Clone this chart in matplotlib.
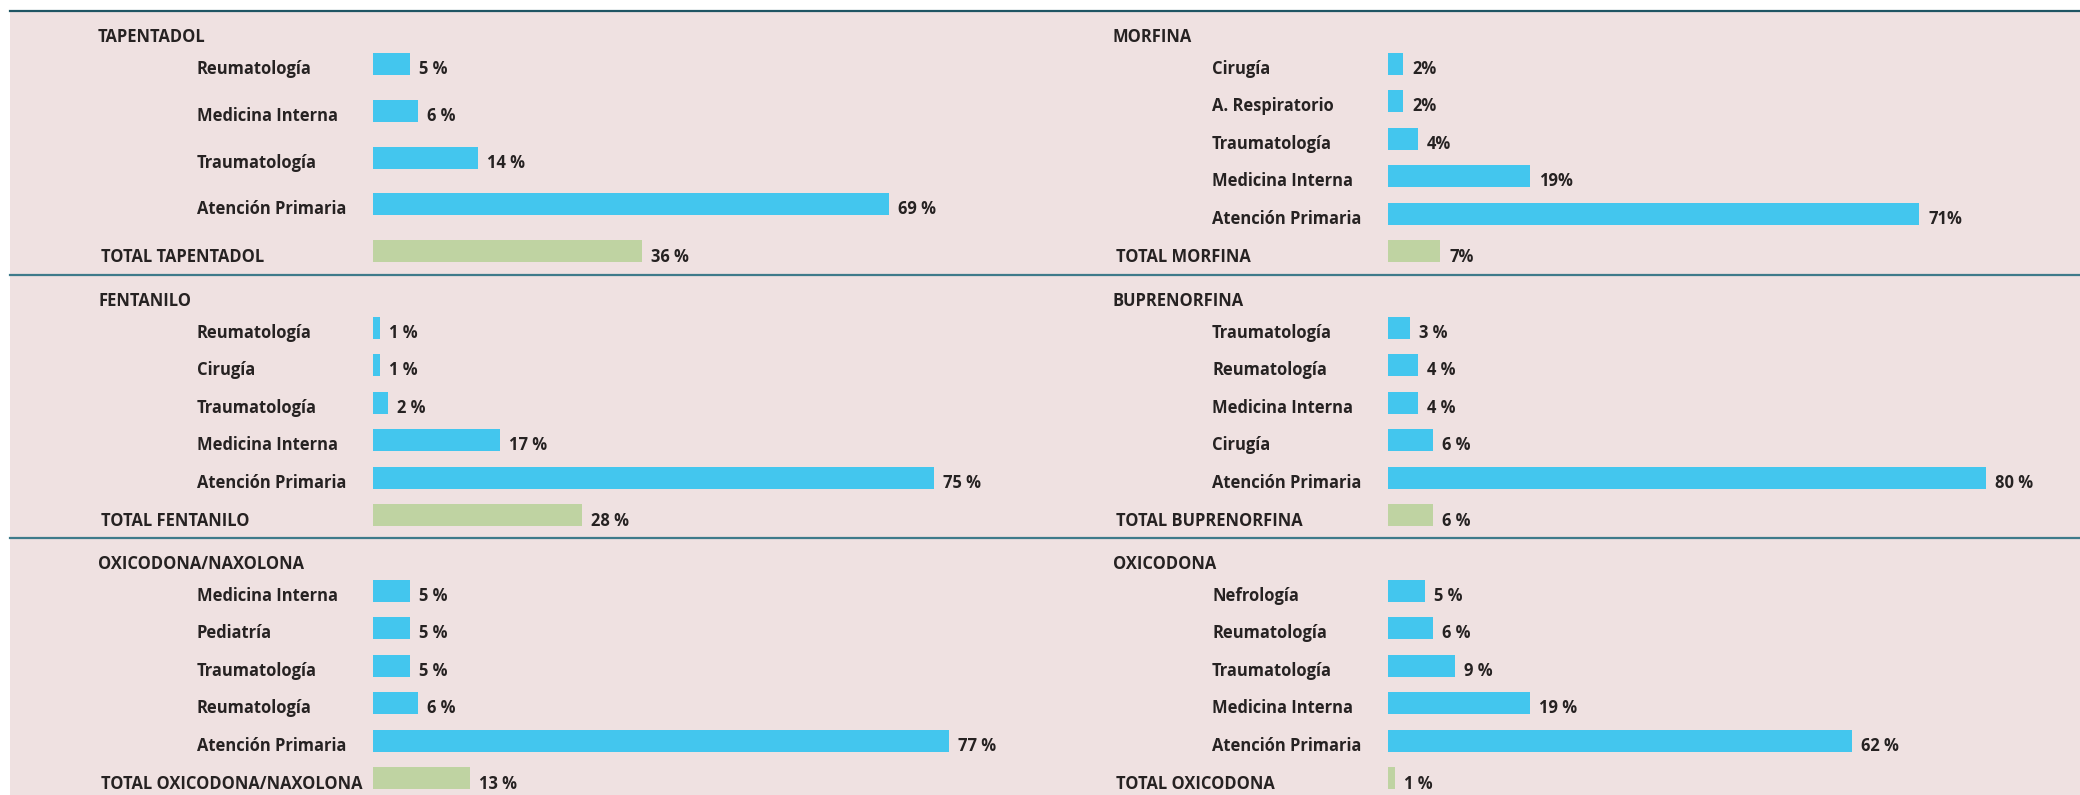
import matplotlib
matplotlib.use("Agg")
import matplotlib.pyplot as plt
from matplotlib.patches import Rectangle
from matplotlib.lines import Line2D

# ---------------- data ----------------
titles = ["TAPENTADOL", "MORFINA", "FENTANILO", "BUPRENORFINA",
          "OXICODONA/NAXOLONA", "OXICODONA"]

cats_tapentadol = ["Reumatología", "Medicina Interna", "Traumatología", "Atención Primaria"]
vals_tapentadol = [5, 6, 14, 69]
total_tapentadol = 36

cats_morfina = ["Cirugía", "A. Respiratorio", "Traumatología", "Medicina Interna", "Atención Primaria"]
vals_morfina = [2, 2, 4, 19, 71]
total_morfina = 7

cats_fentanilo = ["Reumatología", "Cirugía", "Traumatología", "Medicina Interna", "Atención Primaria"]
vals_fentanilo = [1, 1, 2, 17, 75]
total_fentanilo = 28

cats_bupre = ["Traumatología", "Reumatología", "Medicina Interna", "Cirugía", "Atención Primaria"]
vals_bupre = [3, 4, 4, 6, 80]
total_bupre = 6

cats_oxinax = ["Medicina Interna", "Pediatría", "Traumatología", "Reumatología", "Atención Primaria"]
vals_oxinax = [5, 5, 5, 6, 77]
total_oxinax = 13

cats_oxi = ["Nefrología", "Reumatología", "Traumatología", "Medicina Interna", "Atención Primaria"]
vals_oxi = [5, 6, 9, 19, 62]
total_oxi = 1

pct_sep = [" %", "%", " %", " %", " %", " %"]

panels = [
    (titles[0], cats_tapentadol, vals_tapentadol, total_tapentadol),
    (titles[1], cats_morfina, vals_morfina, total_morfina),
    (titles[2], cats_fentanilo, vals_fentanilo, total_fentanilo),
    (titles[3], cats_bupre, vals_bupre, total_bupre),
    (titles[4], cats_oxinax, vals_oxinax, total_oxinax),
    (titles[5], cats_oxi, vals_oxi, total_oxi),
]

# ---------------- style ----------------
W, H = 2080, 795
BG = "#EFE1E1"
BLUE = "#43C6EE"
GREEN = "#BFD3A2"
TXT = "#262222"
LINE_TOP = "#1F5563"
LINE_SEP = "#3E7A8A"
FONT = ["Open Sans", "DejaVu Sans"]
FS = 11.9

fig = plt.figure(figsize=(W / 100, H / 100), dpi=100)
fig.patch.set_facecolor("white")

def fx(px):
    return px / W

def fy(py):
    return 1 - py / H

# pink background
fig.add_artist(Rectangle((fx(10), 0), 1 - fx(10), fy(11), transform=fig.transFigure,
                         facecolor=BG, edgecolor="none", zorder=0))

row_tops = [11, 275, 538]
row_h = 264
# lines
fig.add_artist(Line2D([fx(10), 1], [fy(11), fy(11)], transform=fig.transFigure,
                      color=LINE_TOP, lw=1.6, zorder=5))
for yt in row_tops[1:]:
    fig.add_artist(Line2D([fx(10), 1], [fy(yt), fy(yt)], transform=fig.transFigure,
                          color=LINE_SEP, lw=1.6, zorder=5))

S = 7.48          # px per percent
panel_left = [10, 1025]
bar0_off = 363    # bar start relative to panel left
title_off = 88
cat_off = 187
total_off = 91
first_y = 53
last_y = 240
bar_h = 22

for i, (title, cats, vals, total) in enumerate(panels):
    col = i % 2
    row = i // 2
    left_px = panel_left[col]
    width_px = (1015 if col == 0 else W - 1025)
    top_px = row_tops[row]
    ax = fig.add_axes([fx(left_px), fy(top_px + row_h), fx(width_px), row_h / H])
    ax.set_facecolor("none")
    ax.set_xlim(-bar0_off / S, (width_px - bar0_off) / S)
    ax.set_ylim(row_h, 0)
    ax.axis("off")

    n = len(cats)
    step = (last_y - first_y) / n
    ys = [first_y + k * step for k in range(n)]
    ax.barh(ys, vals, height=bar_h, left=0, color=BLUE, edgecolor="none")
    ax.barh([last_y], [total], height=bar_h, left=0, color=GREEN, edgecolor="none")

    sep = pct_sep[i]
    kw = dict(family=FONT, fontsize=FS, fontweight="bold", color=TXT, va="baseline")
    ax.text((title_off - bar0_off) / S, 31, title, ha="left", **kw)
    for y, c, v in zip(ys, cats, vals):
        ax.text((cat_off - bar0_off) / S, y + 10, c, ha="left", **kw)
        ax.text(v + 9 / S, y + 10, f"{v}{sep}", ha="left", **kw)
    ax.text((total_off - bar0_off) / S, last_y + 11, f"TOTAL {title}", ha="left", **kw)
    ax.text(total + 9 / S, last_y + 11, f"{total}{sep}", ha="left", **kw)

fig.savefig("out.png", dpi=100, facecolor="white")
